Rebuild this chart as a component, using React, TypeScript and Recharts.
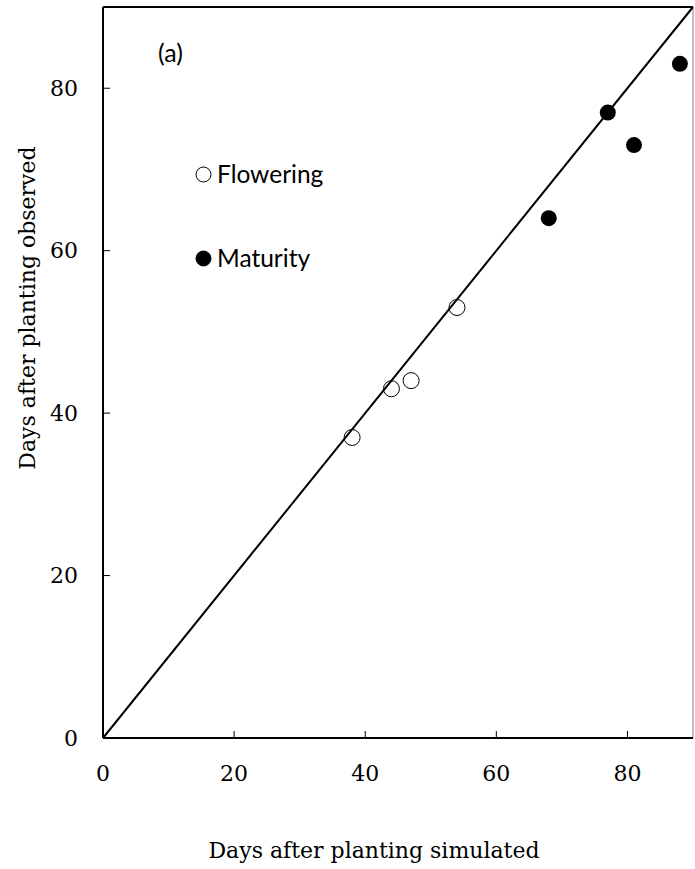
import React from 'react';
import { ScatterChart, Scatter, XAxis, YAxis, ReferenceLine, Legend, Label } from 'recharts';

const floweringSimulated = [38, 44, 47, 54];
const floweringObserved = [37, 43, 44, 53];
const maturitySimulated = [68, 77, 81, 88];
const maturityObserved = [64, 77, 73, 83];
const axisTicks = [0, 20, 40, 60, 80];
const axisMin = 0;
const axisMax = 90;
const seriesNames = ['Flowering', 'Maturity'];
const panelLabel = '(a)';
const xTitle = 'Days after planting simulated';
const yTitle = 'Days after planting observed';

const flowering = floweringSimulated.map((x, i) => ({ x, y: floweringObserved[i] }));
const maturity = maturitySimulated.map((x, i) => ({ x, y: maturityObserved[i] }));

const SERIF = "'DejaVu Serif', serif";
const SANS = "Lato, 'Open Sans', sans-serif";
const R = 8;

const OpenCircle = (p: any) => (
  <circle cx={p.cx} cy={p.cy} r={R} fill="none" stroke="#000" strokeWidth={1} />
);
const FilledCircle = (p: any) => <circle cx={p.cx} cy={p.cy} r={R} fill="#000" />;

const legendStyles = [
  { fill: 'none', stroke: '#000' },
  { fill: '#000', stroke: '#000' },
];

const LegendContent = () => (
  <div style={{ fontFamily: SANS, fontSize: 24.5, color: '#000' }}>
    {seriesNames.map((name, i) => (
      <div
        key={name}
        style={{ display: 'flex', alignItems: 'center', height: 24, marginBottom: i === 0 ? 60 : 0 }}
      >
        <svg width={17} height={17} style={{ display: 'block' }}>
          <circle cx={8.5} cy={8.5} r={7.5} fill={legendStyles[i].fill} stroke={legendStyles[i].stroke} strokeWidth={1} />
        </svg>
        <span style={{ marginLeft: 5, lineHeight: '24px' }}>{name}</span>
      </div>
    ))}
  </div>
);

export default function App() {
  return (
    <div style={{ position: 'absolute', left: 0, top: 0, width: 695, height: 869, background: '#fff' }}>
      <ScatterChart width={695} height={869} margin={{ top: 7, right: 2, bottom: 0, left: 0 }}>
        <XAxis
          type="number"
          dataKey="x"
          domain={[axisMin, axisMax]}
          ticks={axisTicks}
          height={131}
          tickSize={-7}
          tickMargin={34}
          axisLine={{ stroke: '#000', strokeWidth: 2 }}
          tickLine={{ stroke: '#000', strokeWidth: 1 }}
          tick={{ fontFamily: SERIF, fontSize: 22, fill: '#000' }}
        >
          <Label
            content={() => (
              <text x={374} y={858} textAnchor="middle" fontFamily={SERIF} fontSize={22} fill="#000">
                {xTitle}
              </text>
            )}
          />
        </XAxis>
        <YAxis
          type="number"
          dataKey="y"
          domain={[axisMin, axisMax]}
          ticks={axisTicks}
          width={103}
          tickSize={-7}
          tickMargin={32}
          axisLine={{ stroke: '#000', strokeWidth: 2 }}
          tickLine={{ stroke: '#000', strokeWidth: 1 }}
          tick={{ fontFamily: SERIF, fontSize: 22, fill: '#000' }}
        >
          <Label
            content={() => (
              <text
                x={35}
                y={308}
                transform="rotate(-90, 35, 308)"
                textAnchor="middle"
                fontFamily={SERIF}
                fontSize={22}
                fill="#000"
              >
                {yTitle}
              </text>
            )}
          />
        </YAxis>
        <ReferenceLine y={axisMax} stroke="#000" strokeWidth={2} />
        <ReferenceLine x={axisMax} stroke="#808080" strokeWidth={1} />
        <ReferenceLine
          segment={[
            { x: axisMin, y: axisMin },
            { x: axisMax, y: axisMax },
          ]}
          stroke="#000"
          strokeWidth={2}
        />
        <Scatter name={seriesNames[0]} data={flowering} shape={OpenCircle} fill="#000" isAnimationActive={false} />
        <Scatter name={seriesNames[1]} data={maturity} shape={FilledCircle} fill="#000" isAnimationActive={false} />
        <Legend
          layout="vertical"
          align="center"
          verticalAlign="middle"
          content={LegendContent}
          wrapperStyle={{ position: 'absolute', left: 195, top: 162, width: 'auto', height: 'auto' }}
        />
      </ScatterChart>
      <div
        style={{
          position: 'absolute',
          left: 158,
          top: 37,
          fontFamily: SANS,
          fontSize: 25,
          lineHeight: '30px',
          color: '#000',
        }}
      >
        {panelLabel}
      </div>
    </div>
  );
}
